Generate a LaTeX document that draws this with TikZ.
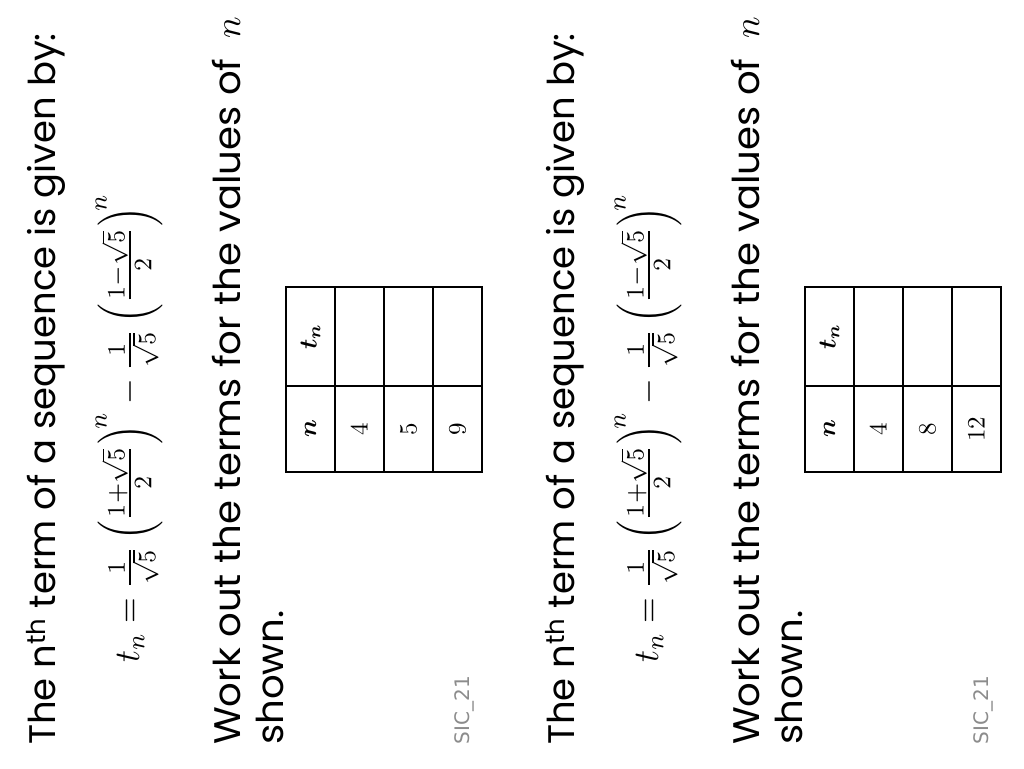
\documentclass[tikz,border=0pt]{standalone}
\usepackage{amsmath}
\usepackage[no-math]{fontspec}
\setmainfont{Poppins}
\newfontfamily\sicfont{DejaVu Sans}
\newcommand{\mybig}[2]{{\fontsize{10}{12}\selectfont\scalebox{#1}{$#2$}}}
\newcommand{\myeq}[1]{{\fontsize{10}{12}\selectfont\scalebox{3.3}[3.6]{$#1$}}}
\begin{document}
\begin{tikzpicture}[x=1pt,y=-1pt,
  rtext/.style={rotate=90,anchor=base west,inner sep=0pt},
  bigtext/.style={rtext,font=\fontsize{37}{44}\selectfont},
  formula/.style={rtext,font=\fontsize{10}{12}\selectfont},
  cell/.style={draw,line width=1.3pt,rotate=90,inner sep=0pt,font=\fontsize{10}{12}\selectfont},
  headcell/.style={cell,minimum width=99,minimum height=49},
  valcell/.style={cell,minimum width=86,minimum height=49},
  sic/.style={rotate=90,inner sep=0pt,text=black!45,font=\sicfont\fontsize{20}{22}\selectfont}]
\useasboundingbox[fill=white] (0,0) rectangle (1024,768);
\foreach \k/\dx/\va/\vb/\vc in {1/0/4/5/9, 2/519/4/8/12}{
\begin{scope}[xshift=\dx pt]
\node[bigtext] (title\k) at (55,745) {The n\textsuperscript{th} term of a sequence is given by:};
\node[formula] (eq\k) at (139,663) {\myeq{t_n=\frac{1}{\sqrt{5}}\left(\frac{1+\sqrt{5}}{2}\right)^{\!n}-\frac{1}{\sqrt{5}}\left(\frac{1-\sqrt{5}}{2}\right)^{\!n}}};
\node[bigtext] (worka\k) at (240,745) {\scalebox{1.045}[1]{Work out the terms for the values of}\hspace{20pt}\mybig{3.6}{n}};
\node[bigtext] (workb\k) at (283,745) {\scalebox{1.045}[1]{shown.}};
\node[headcell] (ht\k) at (310.5,336.5) {\mybig{2.5}{\boldsymbol{t_n}}};
\node[valcell] (hn\k) at (310.5,429) {\mybig{2.5}{\boldsymbol{n}}};
\node[headcell] (ta\k) at (359.5,336.5) {};
\node[valcell] (na\k) at (359.5,429) {\mybig{2.5}{\va}};
\node[headcell] (tb\k) at (408.5,336.5) {};
\node[valcell] (nb\k) at (408.5,429) {\mybig{2.5}{\vb}};
\node[headcell] (tc\k) at (457.5,336.5) {};
\node[valcell] (nc\k) at (457.5,429) {\mybig{2.5}{\vc}};
\node[sic] (sic\k) at (464,710) {SIC\_21};
\end{scope}
}
\end{tikzpicture}
\end{document}
